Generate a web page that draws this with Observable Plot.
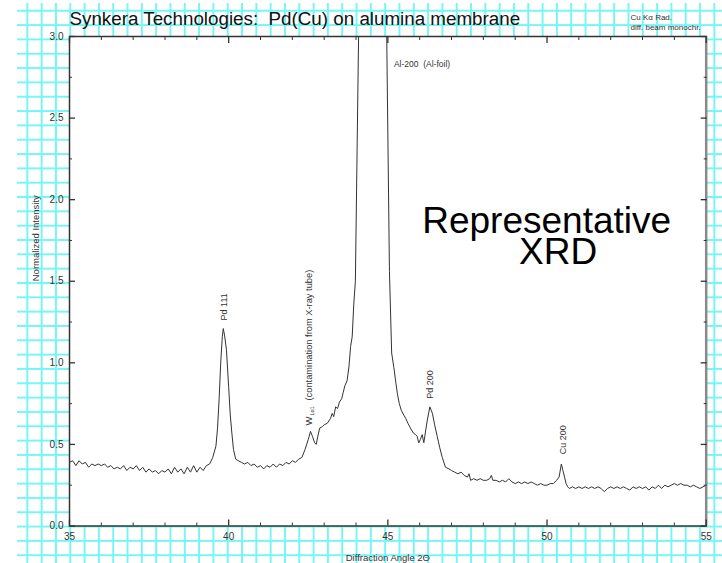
<!DOCTYPE html>
<html>
<head>
<meta charset="utf-8">
<script src="https://cdn.jsdelivr.net/npm/d3@7"></script>
<script src="https://cdn.jsdelivr.net/npm/@observablehq/plot@0.6"></script>
<style>
  html, body { margin: 0; padding: 0; background: white; }
  #wrap { position: relative; width: 722px; height: 563px; overflow: hidden; background: white; }
  #grid {
    position: absolute; left: 17px; top: 3px; right: 0; bottom: 0;
    background-image:
      linear-gradient(to right, #74f6f6 0, #74f6f6 1.6px, transparent 1.6px),
      linear-gradient(to bottom, #74f6f6 0, #74f6f6 1.6px, transparent 1.6px);
    background-size: 14.32px 14.33px;
    background-position: 9.4px 6.8px;
  }
  #chart { position: absolute; left: 0; top: 0; }
</style>
</head>
<body>
<div id="wrap"><div id="grid"></div><div id="chart"></div></div>
<script>
// ---- Diffraction pattern (2θ in degrees, normalized intensity) ----
const angle = [
  35.0,35.1,35.2,35.3,35.4,35.5,35.6,35.7,35.8,35.9,
  36.0,36.1,36.2,36.3,36.4,36.5,36.6,36.7,36.8,36.9,
  37.0,37.1,37.2,37.3,37.4,37.5,37.6,37.7,37.8,37.9,
  38.0,38.1,38.2,38.3,38.4,38.5,38.6,38.7,38.8,38.9,
  39.0,39.1,39.2,39.3,39.4,
  39.5,39.6,39.65,39.7,39.75,39.8,39.83,39.87,39.93,40.0,40.05,40.1,40.15,40.22,40.3,40.4,
  40.5,40.6,40.7,40.8,40.9,41.0,41.1,41.2,41.3,41.4,41.5,41.6,41.7,41.8,41.9,42.0,42.1,42.2,42.3,42.4,
  42.5,42.57,42.63,42.7,42.75,42.8,42.86,42.95,43.0,43.1,43.2,43.25,43.3,43.36,43.42,43.48,43.55,43.6,43.65,43.72,43.78,43.83,43.88,43.93,43.98,
  44.55,
  45.05,45.12,45.19,45.25,45.3,45.36,45.42,45.5,45.56,45.63,45.71,45.8,45.87,45.92,45.97,46.02,46.08,46.13,46.2,46.24,46.32,46.4,46.47,46.55,46.63,46.71,46.81,46.92,47.0,
  47.1,47.2,47.3,47.4,47.5,47.55,47.6,47.7,47.8,47.9,48.0,48.1,48.2,48.25,48.3,48.4,48.5,48.6,48.7,48.8,48.9,
  49.0,49.1,49.2,49.3,49.4,49.5,49.6,49.7,49.8,49.9,50.0,50.1,50.2,50.3,50.38,50.45,50.5,50.55,50.6,50.65,50.7,
  50.8,50.9,51.0,51.1,51.2,51.3,51.4,51.5,51.6,51.7,51.8,51.9,52.0,52.1,52.2,52.3,52.4,52.5,52.6,52.7,52.8,52.9,
  53.0,53.1,53.2,53.3,53.4,53.5,53.6,53.7,53.8,53.9,54.0,54.1,54.2,54.3,54.4,54.5,54.6,54.7,54.8,54.9,55.0
];
const intensity = [
  0.39,0.40,0.37,0.40,0.38,0.39,0.36,0.38,0.37,0.38,
  0.37,0.38,0.36,0.37,0.35,0.36,0.35,0.37,0.34,0.36,
  0.35,0.37,0.34,0.36,0.33,0.35,0.33,0.34,0.32,0.34,
  0.33,0.35,0.32,0.36,0.33,0.35,0.32,0.36,0.33,0.37,
  0.33,0.36,0.34,0.37,0.38,
  0.42,0.49,0.60,0.78,1.00,1.16,1.21,1.17,1.08,0.85,0.68,0.57,0.47,0.41,0.40,0.39,
  0.38,0.39,0.37,0.38,0.36,0.37,0.35,0.37,0.36,0.38,0.36,0.38,0.37,0.39,0.38,0.40,0.39,0.41,0.42,0.47,
  0.53,0.58,0.55,0.51,0.50,0.55,0.60,0.61,0.62,0.63,0.66,0.69,0.67,0.73,0.72,0.76,0.78,0.82,0.86,0.89,0.98,1.10,1.16,1.36,1.50,
  10.0,
  1.56,1.06,0.97,0.88,0.81,0.75,0.71,0.68,0.66,0.63,0.60,0.57,0.56,0.55,0.51,0.53,0.56,0.51,0.60,0.65,0.73,0.69,0.62,0.55,0.48,0.42,0.36,0.35,0.34,
  0.33,0.32,0.33,0.31,0.30,0.32,0.28,0.29,0.28,0.29,0.28,0.28,0.29,0.31,0.28,0.28,0.27,0.28,0.27,0.29,0.27,
  0.26,0.27,0.26,0.27,0.26,0.27,0.26,0.25,0.26,0.25,0.25,0.26,0.26,0.28,0.30,0.38,0.34,0.30,0.26,0.24,0.23,
  0.24,0.23,0.24,0.23,0.24,0.23,0.24,0.23,0.24,0.23,0.21,0.23,0.24,0.23,0.24,0.23,0.24,0.23,0.22,0.24,0.23,0.24,
  0.23,0.24,0.22,0.24,0.23,0.25,0.23,0.25,0.24,0.25,0.26,0.25,0.26,0.25,0.25,0.24,0.25,0.24,0.23,0.24,0.25
];

// ---- Axis ticks ----
const xMajorTicks = [35, 40, 45, 50, 55];
const xMinorTicks = [36,37,38,39,41,42,43,44,46,47,48,49,51,52,53,54];
const yMajorTicks = [0, 0.5, 1.0, 1.5, 2.0, 2.5, 3.0];
const yMinorTicks = [0.25, 0.75, 1.25, 1.75, 2.25, 2.75];
const yTickLabels = ["0.0", "0.5", "1.0", "1.5", "2.0", "2.5", "3.0"];

// ---- Peak annotations (anchor at bottom of rotated label) ----
const peakLabelText = ["Pd 111", "Pd 200", "Cu 200"];
const peakLabelAngle = [39.85, 46.34, 50.51];
const peakLabelIntensity = [1.26, 0.78, 0.44];
const wLabelAngle = 42.52;
const wLabelIntensity = 0.616;
const alLabel = {text: "Al-200  (Al-foil)", angle: 45.19, intensity: 2.832};
const bigNote = [
  {text: "Representative", angle: 46.08, intensity: 1.797},
  {text: "XRD", angle: 49.12, intensity: 1.607}
];

const titleText = "Synkera Technologies:  Pd(Cu) on alumina membrane";
const noteText = "Cu Kα Rad.\ndiff. beam monochr.";
const xLabel = "Diffraction Angle 2Θ";
const yLabel = "Normalized Intensity";

const pattern = angle.map((a, i) => ({angle: a, intensity: intensity[i]}));
const peaks = peakLabelText.map((t, i) => ({text: t, angle: peakLabelAngle[i], intensity: peakLabelIntensity[i]}));

const ink = "#333";
const blank = () => "";

const chart = Plot.plot({
  width: 722,
  height: 563,
  marginLeft: 69,
  marginRight: 16.3,
  marginTop: 36,
  marginBottom: 37.5,
  style: {background: "transparent", fontFamily: "'Liberation Sans', Arial, sans-serif", color: ink},
  x: {domain: [35, 55]},
  y: {domain: [0, 3]},
  marks: [
    Plot.frame({fill: "white", stroke: null}),
    Plot.line(pattern, {x: "angle", y: "intensity", stroke: ink, strokeWidth: 1, clip: true}),
    Plot.frame({stroke: ink, strokeWidth: 1.5}),
    Plot.ruleX([xMajorTicks[xMajorTicks.length - 1]], {stroke: "#8a8a8a", strokeWidth: 2.5}),
    // tick labels
    Plot.axisX(xMajorTicks, {anchor: "bottom", tickSize: 0, tickPadding: 7, fontSize: 10, label: null, tickFormat: d => String(d)}),
    Plot.axisY(yMajorTicks, {anchor: "left", tickSize: 0, tickPadding: 6, fontSize: 10, label: null, tickFormat: d => yTickLabels[yMajorTicks.indexOf(d)]}),
    // inward tick marks on all four sides
    Plot.axisX(xMajorTicks, {anchor: "bottom", tickSize: -6, tickFormat: blank, label: null, strokeWidth: 1.3}),
    Plot.axisX(xMinorTicks, {anchor: "bottom", tickSize: -3, tickFormat: blank, label: null}),
    Plot.axisX(xMajorTicks, {anchor: "top", tickSize: -6, tickFormat: blank, label: null, strokeWidth: 1.3}),
    Plot.axisX(xMinorTicks, {anchor: "top", tickSize: -3, tickFormat: blank, label: null}),
    Plot.axisY(yMajorTicks, {anchor: "left", tickSize: -6, tickFormat: blank, label: null, strokeWidth: 1.3}),
    Plot.axisY(yMinorTicks, {anchor: "left", tickSize: -3, tickFormat: blank, label: null}),
    Plot.axisY(yMajorTicks, {anchor: "right", tickSize: -6, tickFormat: blank, label: null, strokeWidth: 1.3}),
    Plot.axisY(yMinorTicks, {anchor: "right", tickSize: -3, tickFormat: blank, label: null}),
    // axis titles
    Plot.text([xLabel], {frameAnchor: "bottom", dy: 31.5, lineAnchor: "middle", fontSize: 9.5, fill: ink}),
    Plot.text([yLabel], {frameAnchor: "left", dx: -34, rotate: -90, lineAnchor: "middle", fontSize: 9.5, fill: ink}),
    // chart title and radiation note
    Plot.text([titleText], {frameAnchor: "top-left", textAnchor: "start", lineAnchor: "bottom", dy: -12, fontSize: 18.8, fill: "#111"}),
    Plot.text([noteText], {frameAnchor: "top-left", textAnchor: "start", lineAnchor: "bottom", dx: 561, dy: -7, fontSize: 8, lineHeight: 1.25, fill: ink}),
    // peak labels
    Plot.text(peaks, {x: "angle", y: "intensity", text: "text", rotate: -90, textAnchor: "start", lineAnchor: "middle", fontSize: 9, fill: ink}),
    Plot.text(["W"], {x: () => wLabelAngle, y: () => wLabelIntensity, rotate: -90, textAnchor: "start", lineAnchor: "middle", fontSize: 9.5, fill: ink}),
    Plot.text(["Lα1"], {x: () => wLabelAngle, y: () => wLabelIntensity, rotate: -90, textAnchor: "start", lineAnchor: "middle", fontSize: 5.5, dx: 3, dy: -10, fill: ink}),
    Plot.text(["(contamination from X-ray tube)"], {x: () => wLabelAngle, y: () => wLabelIntensity, rotate: -90, textAnchor: "start", lineAnchor: "middle", fontSize: 9.3, dy: -25, fill: ink}),
    Plot.text([alLabel], {x: "angle", y: "intensity", text: "text", textAnchor: "start", lineAnchor: "middle", fontSize: 8.5, fill: ink}),
    Plot.text(bigNote, {x: "angle", y: "intensity", text: "text", textAnchor: "start", lineAnchor: "bottom", fontSize: 37, fill: "#000"})
  ]
});
document.getElementById("chart").appendChild(chart);
</script>
</body>
</html>
